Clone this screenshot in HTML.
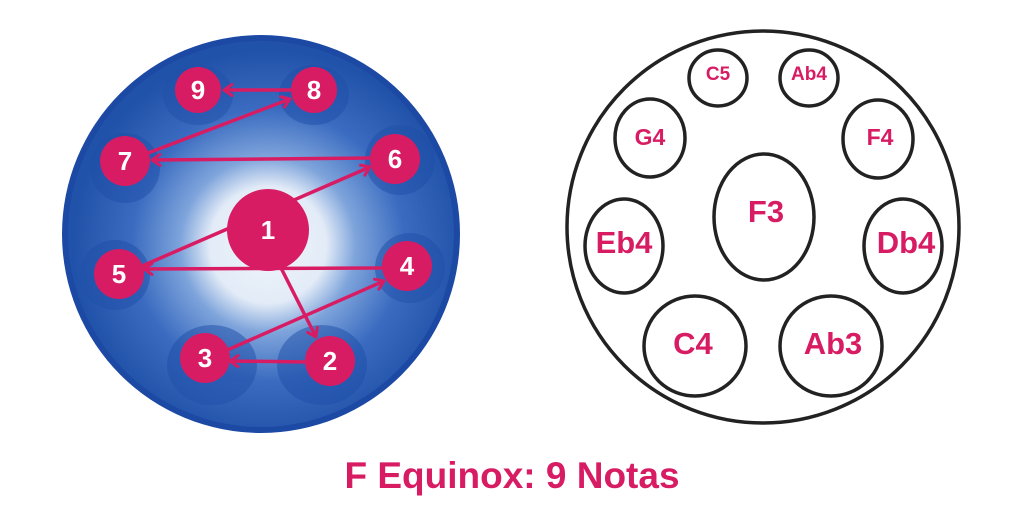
<!DOCTYPE html>
<html><head><meta charset="utf-8"><style>
html,body{margin:0;padding:0;background:#fff;}
svg{display:block;}
text{font-family:"Liberation Sans",Arial,sans-serif;font-weight:700;}
</style></head><body>
<svg width="1024" height="512" viewBox="0 0 1024 512" xmlns="http://www.w3.org/2000/svg">
<defs>
<radialGradient id="glow" cx="268" cy="245" r="195" gradientUnits="userSpaceOnUse">
<stop offset="0" stop-color="#f0f5fb"/>
<stop offset="0.3" stop-color="#e2ebf7"/>
<stop offset="0.45" stop-color="#7ea4db"/>
<stop offset="0.7" stop-color="#3a6bc0"/>
<stop offset="1" stop-color="#2152a9"/>
</radialGradient>
<marker id="ah" markerWidth="14" markerHeight="14" refX="11" refY="7" orient="auto" markerUnits="userSpaceOnUse">
<polyline points="3,1.5 11,7 3,12.5" fill="none" stroke="#d81c63" stroke-width="3" stroke-linecap="round" stroke-linejoin="round"/>
</marker>
</defs>
<circle cx="261" cy="234" r="199" fill="#1c49a3"/>
<circle cx="261" cy="234" r="193" fill="url(#glow)"/>
<g fill="#1f4fa8" opacity="0.5">
<ellipse cx="212" cy="365" rx="45" ry="40"/>
<ellipse cx="322" cy="365" rx="45" ry="40"/>
<ellipse cx="198" cy="95" rx="35" ry="30"/>
<ellipse cx="314" cy="95" rx="35" ry="30"/>
<ellipse cx="125" cy="168" rx="35" ry="35"/>
<ellipse cx="400" cy="160" rx="35" ry="35"/>
<ellipse cx="115" cy="275" rx="35" ry="35"/>
<ellipse cx="410" cy="268" rx="35" ry="35"/>
</g>
<g stroke="#d81c63" stroke-width="3.5" fill="none" marker-end="url(#ah)">
<line x1="292" y1="90" x2="224" y2="90"/>
<line x1="148" y1="153" x2="290" y2="99"/>
<line x1="372" y1="158" x2="152" y2="160"/>
<line x1="142" y1="266" x2="370" y2="167"/>
<line x1="384" y1="268" x2="144" y2="269"/>
<line x1="278" y1="262" x2="316" y2="337"/>
<line x1="307" y1="362" x2="230" y2="361"/>
<line x1="225" y1="351" x2="384" y2="281"/>
</g>
<g fill="#d81c63">
<circle cx="198" cy="90" r="23"/>
<circle cx="314" cy="90" r="23"/>
<circle cx="125" cy="161" r="25"/>
<circle cx="395" cy="159" r="25"/>
<circle cx="268" cy="230" r="41"/>
<circle cx="119" cy="274" r="25"/>
<circle cx="407" cy="266" r="25"/>
<circle cx="205" cy="358" r="25"/>
<circle cx="330" cy="361" r="25"/>
</g>
<g fill="#fff" font-size="26" font-weight="bold" text-anchor="middle">
<text x="198" y="99">9</text>
<text x="314" y="99">8</text>
<text x="125" y="170">7</text>
<text x="395" y="168">6</text>
<text x="268" y="239">1</text>
<text x="119" y="283">5</text>
<text x="407" y="275">4</text>
<text x="205" y="367">3</text>
<text x="330" y="370">2</text>
</g>
<g fill="none" stroke="#222" stroke-width="3.5">
<circle cx="763" cy="227" r="196"/>
<ellipse cx="718" cy="78" rx="29" ry="28"/>
<ellipse cx="809" cy="78" rx="29" ry="28"/>
<ellipse cx="650" cy="138" rx="35" ry="39"/>
<ellipse cx="878" cy="139" rx="35" ry="39"/>
<ellipse cx="764" cy="217" rx="50" ry="63"/>
<ellipse cx="624" cy="246" rx="39" ry="47"/>
<ellipse cx="903" cy="246" rx="39" ry="47"/>
<ellipse cx="695" cy="346" rx="51" ry="50"/>
<ellipse cx="831" cy="346" rx="51" ry="50"/>
</g>
<g fill="#d81c63" font-weight="bold" text-anchor="middle">
<text x="718" y="80" font-size="19">C5</text>
<text x="809" y="80" font-size="19">Ab4</text>
<text x="650" y="145" font-size="23">G4</text>
<text x="880" y="145" font-size="23">F4</text>
<text x="766" y="222" font-size="31">F3</text>
<text x="624" y="253" font-size="31">Eb4</text>
<text x="906" y="253" font-size="31">Db4</text>
<text x="693" y="354" font-size="31">C4</text>
<text x="833" y="354" font-size="31">Ab3</text>
</g>
<text x="512" y="488" font-size="37" font-weight="bold" fill="#d81c63" text-anchor="middle">F Equinox: 9 Notas</text>
</svg>
</body></html>
